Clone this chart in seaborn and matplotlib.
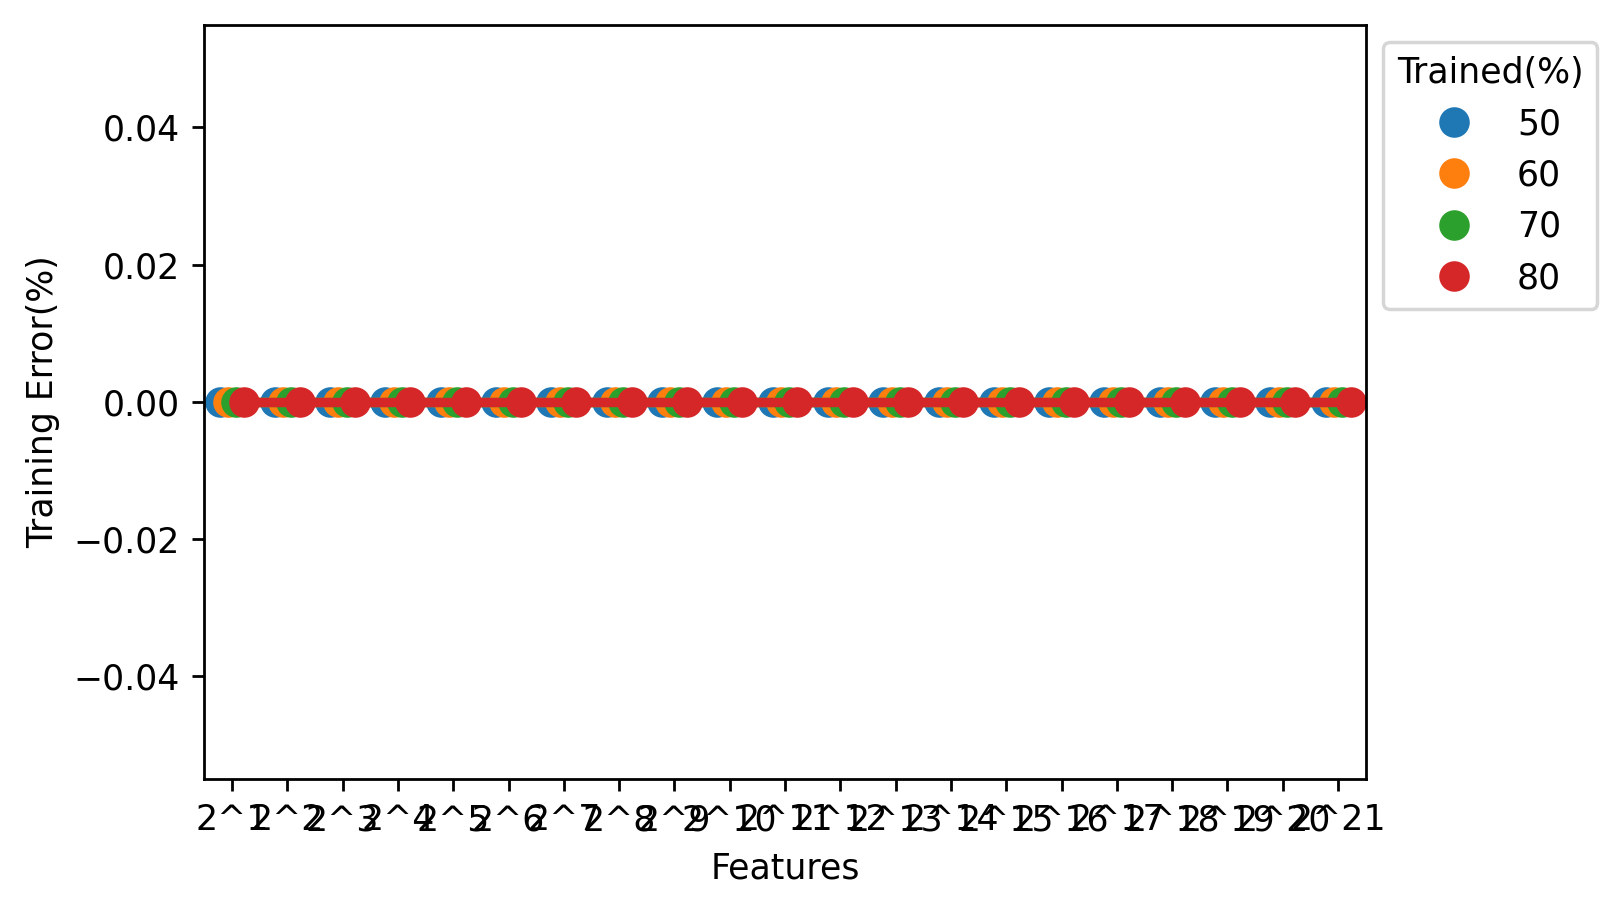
import numpy as np
import pandas as pd
import matplotlib
matplotlib.use("Agg")
import matplotlib.pyplot as plt
import seaborn as sns

# Data
features = ["2^%d" % i for i in range(1, 22)]
trained_pct = [50, 60, 70, 80]
# training error per trained % (all zero in the reference)
err_50 = [0.0] * 21
err_60 = [0.0] * 21
err_70 = [0.0] * 21
err_80 = [0.0] * 21

rows = []
for pct, errs in zip(trained_pct, [err_50, err_60, err_70, err_80]):
    for f, e in zip(features, errs):
        rows.append({"Features": f, "Training Error(%)": e, "Trained(%)": pct})
df = pd.DataFrame(rows)

DPI = 250
fig, ax = plt.subplots(figsize=(1622 / DPI, 911 / DPI), dpi=DPI)
fig.subplots_adjust(left=0.126, right=0.842, top=0.973, bottom=0.145)

sns.pointplot(data=df, x="Features", y="Training Error(%)", hue="Trained(%)",
              palette="tab10", dodge=0.45, ax=ax, markersize=8.8,
              markeredgewidth=0, linewidth=2.7)
ax.set_ylim(-0.055, 0.055)

handles, labels = ax.get_legend_handles_labels()
for h in handles:
    h.set_linestyle("")
ax.legend(handles, labels, title="Trained(%)", loc="upper left",
          bbox_to_anchor=(1, 1), frameon=True)

plt.savefig("out.png", dpi=DPI)
